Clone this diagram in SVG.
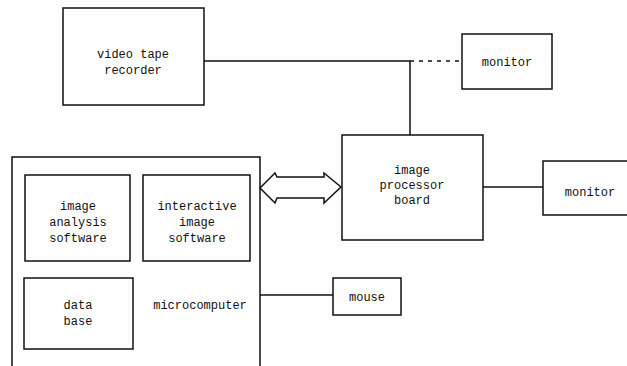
<svg xmlns="http://www.w3.org/2000/svg" width="627" height="366" viewBox="0 0 627 366">
<style>
.box{fill:none;stroke:#111;stroke-width:1.5}
.ln{fill:none;stroke:#111;stroke-width:1.5}
text{font-family:"Liberation Mono","Courier New",monospace;font-size:12px;fill:#111;text-anchor:middle}
</style>
<rect width="627" height="366" fill="#fff"/>
<g id="connectors">
<path class="ln" d="M204 61 H410 V135"/>
<path class="ln" d="M410 61 H462" stroke-dasharray="4 5"/>
<path class="ln" d="M483 187 H543"/>
<path class="ln" d="M260 295 H333"/>
<polygon class="ln" points="260,188 275,173 277,177 324,177 324,173 341,187 324,203 324,198 277,198 275,203"/>
</g>
<g id="vtr"><rect class="box" x="63" y="8" width="141" height="97"/><text x="133" y="58">video tape</text><text x="133" y="74">recorder</text></g>
<g id="monitor1"><rect class="box" x="462" y="34" width="90" height="55"/><text x="507" y="66">monitor</text></g>
<g id="ipb"><rect class="box" x="342" y="135" width="141" height="105"/><text x="412" y="174">image</text><text x="412" y="189">processor</text><text x="412" y="204">board</text></g>
<g id="monitor2"><rect class="box" x="543" y="161" width="90" height="54"/><text x="590" y="196">monitor</text></g>
<g id="microcomputer"><rect class="box" x="12" y="157" width="248" height="212"/><text x="200" y="309">microcomputer</text></g>
<g id="ias"><rect class="box" x="25" y="175" width="105" height="86"/><text x="78" y="210">image</text><text x="78" y="226">analysis</text><text x="78" y="242">software</text></g>
<g id="iis"><rect class="box" x="143" y="175" width="107" height="86"/><text x="197" y="210">interactive</text><text x="197" y="226">image</text><text x="197" y="242">software</text></g>
<g id="db"><rect class="box" x="24" y="278" width="109" height="71"/><text x="78" y="309">data</text><text x="78" y="325">base</text></g>
<g id="mouse"><rect class="box" x="333" y="278" width="68" height="37"/><text x="367" y="301">mouse</text></g>
</svg>
